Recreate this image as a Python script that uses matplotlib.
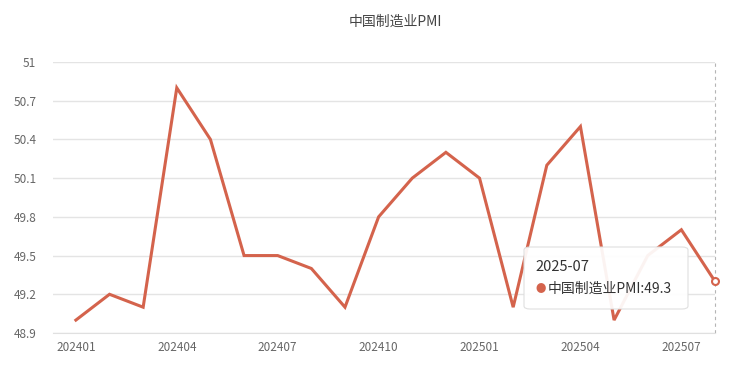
import numpy as np
import matplotlib.pyplot as plt
from matplotlib.patches import FancyBboxPatch

plt.rcParams['font.family'] = ['Noto Sans CJK SC', 'DejaVu Sans']

# ============================== Data ==========================================
months = ['202401', '202402', '202403', '202404', '202405', '202406', '202407',
          '202408', '202409', '202410', '202411', '202412', '202501', '202502',
          '202503', '202504', '202505', '202506', '202507', '202508']
pmi = [49.0, 49.2, 49.1, 50.8, 50.4, 49.5, 49.5, 49.4, 49.1, 49.8,
       50.1, 50.3, 50.1, 49.1, 50.2, 50.5, 49.0, 49.5, 49.7, 49.3]
yticks = [48.9, 49.2, 49.5, 49.8, 50.1, 50.4, 50.7, 51]
tip_date = '2025-07'
series_name = '中国制造业PMI'

line_color = '#d4634c'

# ============================== Plot ==========================================
fig = plt.figure(figsize=(7.5, 3.78), dpi=100)
ax = fig.add_axes([53/750, 1 - 333/378, (715 - 53)/750, (333 - 62)/378])

x = np.arange(len(months))
ax.plot(x, pmi, color=line_color, lw=2.2, solid_joinstyle='miter', zorder=3,
        clip_on=False)
ax.plot(x[-1], pmi[-1], 'o', ms=5, mfc='white', mec=line_color, mew=1.5,
        zorder=4, clip_on=False)

ax.set_xlim(-0.68, len(months) - 1)
ax.set_ylim(48.9, 51)
ax.set_yticks(yticks)
ax.set_yticklabels([f'{v:g}' for v in yticks])
ax.set_xticks(x[::3])
ax.set_xticklabels(months[::3])
ax.grid(axis='y', color='#e4e4e4', lw=1)
ax.set_axisbelow(True)
for s in ax.spines.values():
    s.set_visible(False)
ax.spines['bottom'].set_visible(True)
ax.spines['bottom'].set_color('#e0e0e0')
ax.tick_params(length=0, labelsize=8.5, colors='#666666')
ax.tick_params(axis='y', pad=12)
ax.tick_params(axis='x', pad=6)

# axis pointer
ax.axvline(x[-1], color='#b5b5b5', lw=0.8, ls=(0, (3, 3)), zorder=2,
           clip_on=False)

fig.text(0.527, 1 - 22/378, '中国制造业PMI', ha='center', va='center',
         fontsize=10, color='#444444')

# tooltip
box = FancyBboxPatch((524/750, 1 - 309/378), 164/750, 62/378,
                     boxstyle='round,pad=0,rounding_size=0.008',
                     transform=fig.transFigure, fc='white', ec='#dddddd',
                     lw=0.8, alpha=0.93, zorder=10)
fig.patches.append(box)
fig.text(535/750, 1 - 267/378, tip_date, ha='left', va='center',
         fontsize=10.5, color='#333333', zorder=11)
fig.text(535/750, 1 - 289/378, '●', ha='left', va='center',
         fontsize=7.5, color=line_color, zorder=11)
fig.text(548/750, 1 - 289/378, f'{series_name}:{pmi[-1]}', ha='left',
         va='center', fontsize=10, color='#333333', zorder=11)

fig.savefig('out.png', dpi=100)
